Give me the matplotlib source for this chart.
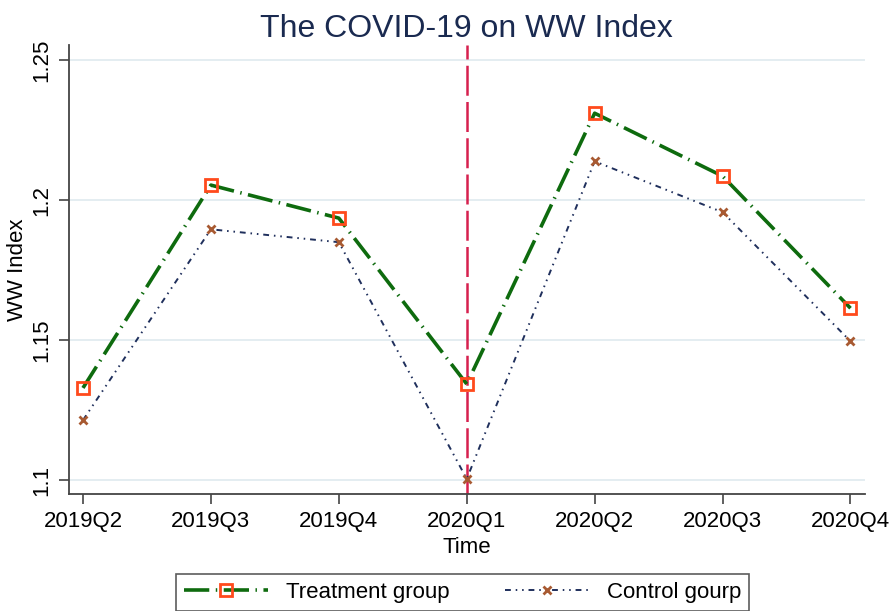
# ====================================
# COVID-19 ON WW INDEX - LINE CHART
# ====================================

import matplotlib
matplotlib.use("Agg")
import matplotlib.pyplot as plt

# ====================================
# DATA
# ====================================

quarters = ["2019Q2", "2019Q3", "2019Q4", "2020Q1", "2020Q2", "2020Q3", "2020Q4"]

treatment = [1.1329, 1.2054, 1.1936, 1.1343, 1.2311, 1.2086, 1.1614]
control = [1.1214, 1.1896, 1.1850, 1.1004, 1.2139, 1.1957, 1.1496]

y_ticks = [1.1, 1.15, 1.2, 1.25]
y_tick_labels = ["1.1", "1.15", "1.2", "1.25"]

event_quarter = "2020Q1"

# ====================================
# STYLE
# ====================================

plt.rcParams["font.family"] = ["Liberation Sans", "DejaVu Sans"]

green = "#0e6b0e"
navy = "#1f2f5c"
orange = "#ff4a1c"
brown = "#a85a32"
crimson = "#d6204e"

# ====================================
# FIGURE
# ====================================

fig = plt.figure(figsize=(8.95, 6.11), dpi=100)
ax = fig.add_axes([0.077, 0.1915, 0.889, 0.7345])

x = list(range(len(quarters)))

ax.axvline(
    quarters.index(event_quarter),
    color=crimson,
    linewidth=1.8,
    linestyle=(0, (12, 2.5)),
    zorder=1
)

ax.plot(
    x, treatment,
    color=green,
    linewidth=2.6,
    linestyle=(0, (7, 1.8, 0.4, 1.8)),
    marker="s",
    markersize=9,
    markerfacecolor="none",
    markeredgecolor=orange,
    markeredgewidth=2,
    label="Treatment group",
    zorder=3
)

ax.plot(
    x, control,
    color=navy,
    linewidth=1.4,
    linestyle=(0, (3, 2.5, 0.8, 2.5, 0.8, 2.5)),
    marker="x",
    markersize=5.5,
    markeredgecolor=brown,
    markeredgewidth=2,
    label="Control gourp",
    zorder=2
)

# ====================================
# AXES
# ====================================

ax.set_xlim(-0.11, len(quarters) - 1 + 0.11)
ax.set_ylim(1.095, 1.2554)

ax.set_xticks(x)
ax.set_xticklabels(quarters, fontsize=16)

ax.set_yticks(y_ticks)
ax.set_yticklabels(
    y_tick_labels,
    fontsize=16,
    rotation=90,
    va="center"
)

ax.tick_params(
    axis="both",
    direction="out",
    length=7,
    width=1.2,
    color="#444444",
    pad=5
)

for side in ["top", "right"]:
    ax.spines[side].set_visible(False)

for side in ["left", "bottom"]:
    ax.spines[side].set_color("#444444")
    ax.spines[side].set_linewidth(1.3)

ax.grid(axis="y", color="#e4edf1", linewidth=1.4)
ax.set_axisbelow(True)

ax.set_xlabel("Time", fontsize=16)
ax.set_ylabel("WW Index", fontsize=16)

ax.xaxis.set_label_coords(0.5, -0.096)
ax.yaxis.set_label_coords(-0.052, 0.5)

ax.set_title(
    "The COVID-19 on WW Index",
    fontsize=23,
    color="#1a2a50",
    pad=6
)

# ====================================
# LEGEND
# ====================================

leg = fig.legend(
    loc="upper center",
    bbox_to_anchor=(0.517, 0.078),
    ncol=2,
    fontsize=16,
    frameon=True,
    fancybox=False,
    edgecolor="#333333",
    handlelength=3.8,
    columnspacing=2.5,
    borderpad=0.35
)

leg.get_frame().set_linewidth(1.2)

fig.savefig("out.png", dpi=100)
